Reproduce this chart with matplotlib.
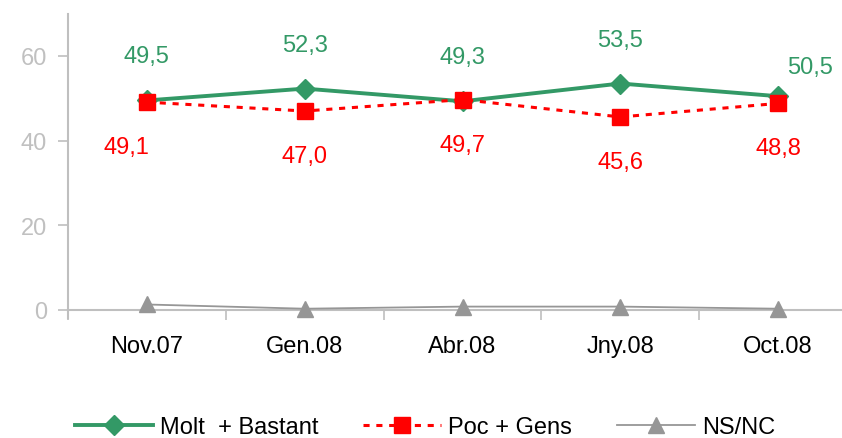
import matplotlib.pyplot as plt
import numpy as np

plt.rcParams['font.family'] = ['Liberation Sans', 'DejaVu Sans']

categories = ["Nov.07", "Gen.08", "Abr.08", "Jny.08", "Oct.08"]
molt_bastant = [49.5, 52.3, 49.3, 53.5, 50.5]
poc_gens = [49.1, 47.0, 49.7, 45.6, 48.8]
ns_nc = [1.3, 0.3, 0.8, 0.8, 0.3]

green = "#339966"
red = "#FF0000"
grey = "#969696"
axis_grey = "#BFBFBF"
fs = 17

fig = plt.figure(figsize=(8.42, 4.39), dpi=100)
ax = fig.add_axes([0.0808, 0.2916, 0.937, 0.675])

x = np.arange(len(categories))

ax.plot(x, ns_nc, color=grey, lw=1.3, marker="^", ms=11, label="NS/NC", zorder=5,
        clip_on=False)
ax.plot(x, molt_bastant, color=green, lw=2.8, marker="D", ms=10.5, label="Molt  + Bastant", zorder=3)
ax.plot(x, poc_gens, color=red, lw=2.2, ls=(0, (2, 2.2)), marker="s", ms=11,
        label="Poc + Gens", zorder=4)

for i, v in enumerate(molt_bastant):
    last = i == len(categories) - 1
    ax.annotate(f"{v:.1f}".replace(".", ","), (i, v),
                xytext=(32 if last else 0, 29 if last else 44),
                textcoords="offset pixels", ha="center", va="center",
                color=green, fontsize=fs)
for i, v in enumerate(poc_gens):
    ax.annotate(f"{v:.1f}".replace(".", ","), (i, v), xytext=(-20 if i == 0 else 0, -45),
                textcoords="offset pixels", ha="center", va="center",
                color=red, fontsize=fs)

ax.set_xlim(-0.5, 4.5)
ax.set_ylim(0, 70)
ax.set_yticks([0, 20, 40, 60])
ax.set_xticks(x)
ax.set_xticklabels(categories, fontsize=fs, color="black")
ax.set_xticks(np.arange(-0.5, 5, 1), minor=True)
ax.tick_params(axis="x", which="major", length=0, pad=18)
ax.tick_params(axis="x", which="minor", length=7, color=axis_grey, width=1.2, direction="out")
ax.tick_params(axis="y", length=7, color=axis_grey, width=1.2, labelcolor="#C0C0C0",
               labelsize=fs, pad=8)

for s in ["top", "right"]:
    ax.spines[s].set_visible(False)
for s in ["left", "bottom"]:
    ax.spines[s].set_color(axis_grey)
    ax.spines[s].set_linewidth(1.5)
ax.spines["left"].set_bounds(-1.9, 70)

handles, labels = ax.get_legend_handles_labels()
order = [1, 2, 0]
fig.legend([handles[i] for i in order], [labels[i] for i in order],
           loc="center", bbox_to_anchor=(0.505, 0.025), ncol=3, frameon=False,
           fontsize=fs, handlelength=3.3, handletextpad=0.3, columnspacing=1.9)

fig.savefig("out.png", dpi=100)
